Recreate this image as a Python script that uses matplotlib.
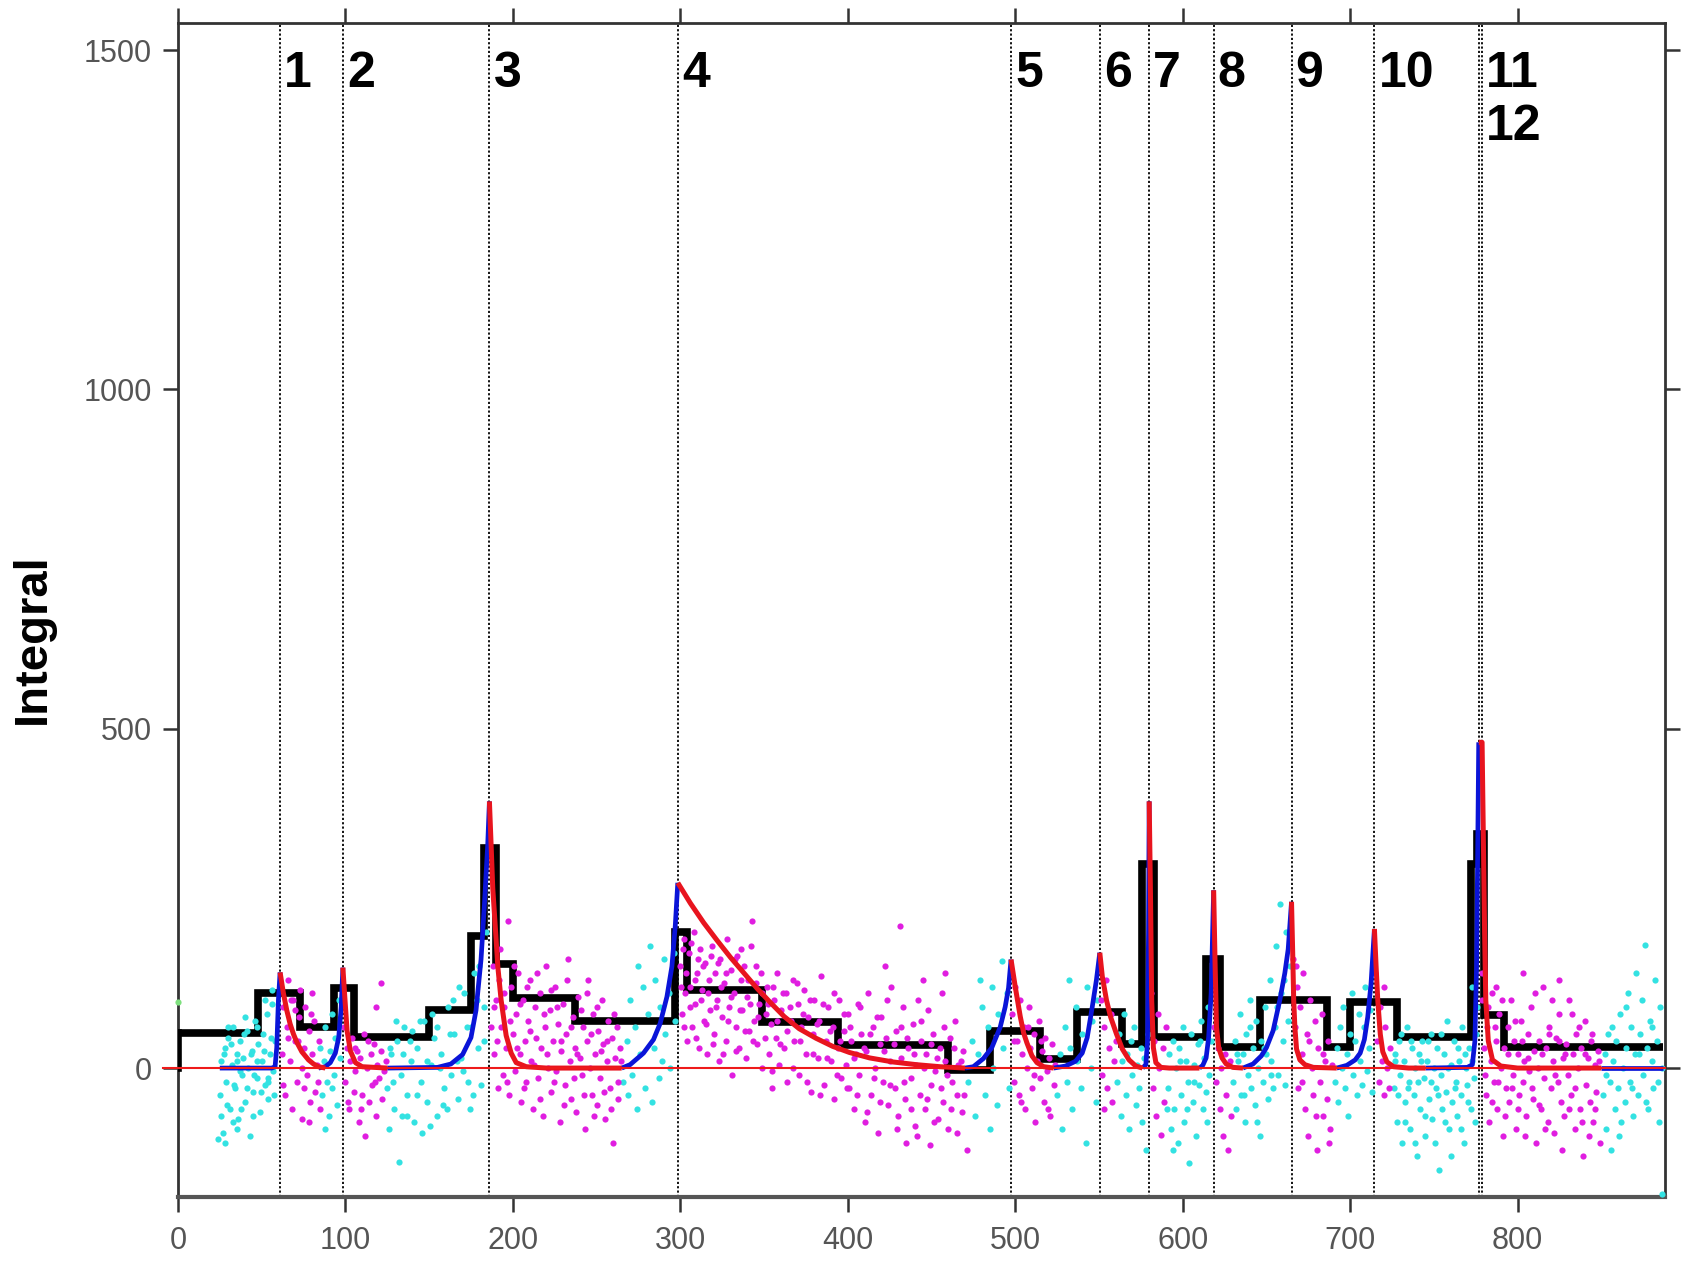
import numpy as np
import matplotlib
matplotlib.use('Agg')
import matplotlib.pyplot as plt

plt.rcParams['font.family'] = ['Liberation Sans', 'DejaVu Sans']

# ── event markers (dotted lines) ─────────────────────────────────────
event_x = [61, 98.5, 186, 298.5, 497.5, 550.5, 580, 618.5, 665, 714.5, 776.8, 778.6]
event_lbl = ['1', '2', '3', '4', '5', '6', '7', '8', '9', '10', '11', '12']
event_lbl_y = [1465] * 11 + [1387]

# ── Bayesian-block style step (edges / levels) ──────────────────────
step_edges = [0, 48, 73, 93, 105, 150, 175, 183, 190, 200, 237, 297, 304, 349,
              394, 460, 485, 515, 537, 564, 576, 583, 614, 622, 646, 686, 700,
              728, 772, 776, 780, 792, 887]
step_levels = [51, 110, 61, 118, 46, 85, 195, 325, 154, 103, 70, 200, 115, 68,
               34, -3, 55, 14, 83, 36, 300, 46, 160, 31, 100, 31, 97,
               46, 300, 345, 78, 31]

# ── pulse rises (blue) and decays (red) ─────────────────────────────
rise_curves = [
    [(25, 0), (56, 0), (58, 2), (59, 30), (60, 100), (61, 141)],
    [(84, 0), (88, 2), (91, 8), (94, 22), (96, 45), (97.5, 90), (98.5, 148)],
    [(125, 0), (155, 1), (163, 6), (170, 20), (175, 45), (178, 85), (181, 160),
     (183, 240), (185, 330), (186, 393)],
    [(265, 0), (270, 5), (278, 22), (284, 42), (288, 66), (292, 105), (295, 150),
     (297, 210), (298.5, 273)],
    [(470, 0), (475, 2), (481, 14), (486, 30), (491, 60), (494, 90), (496, 118),
     (497.5, 160)],
    [(523, 0), (530, 3), (536, 10), (540, 22), (543, 45), (546, 90), (548.5, 130),
     (550.5, 170)],
    [(576, 0), (578, 5), (579, 40), (579.6, 200), (580, 393)],
    [(610, 0), (612, 4), (614, 15), (615.5, 45), (617, 110), (618.5, 262)],
    [(636, 0), (642, 6), (647, 18), (650, 30), (654, 55), (658, 100), (661, 140),
     (663, 175), (665, 245)],
    [(692, 0), (698, 4), (703, 12), (706, 22), (708.5, 42), (710.5, 75),
     (712.5, 125), (714.5, 205)],
    [(745, 0), (770, 1), (773, 5), (774.5, 40), (775.5, 150), (776.3, 350),
     (776.8, 480)],
    [(850, 0), (887, 0)],
]
decay_curves = [
    [(61, 141), (63, 110), (65, 85), (67, 65), (69, 50), (71, 38), (74, 24),
     (78, 12), (81, 6), (84, 2), (88, 0)],
    [(98.5, 148), (99.5, 110), (101, 55), (103, 25), (106, 8), (110, 2), (125, 0)],
    [(186, 393), (187, 330), (188, 265), (190, 190), (191, 150), (193, 100),
     (196, 48), (199, 22), (202, 8), (208, 2), (220, 0), (265, 0)],
    [(298.5, 273), (306, 243), (314, 214), (322, 188), (330, 163), (338, 140),
     (346, 117), (354, 96), (362, 76), (371, 58), (381, 44), (391, 32),
     (401, 23), (413, 15), (427, 9), (441, 5), (455, 2), (470, 0)],
    [(497.5, 160), (500, 120), (503, 76), (505, 52), (507, 37), (510, 18),
     (513, 8), (517, 2), (523, 0)],
    [(550.5, 170), (552, 135), (554.5, 100), (557, 75), (560.5, 50), (564, 28),
     (568, 12), (572, 3), (576, 0)],
    [(580, 393), (580.8, 250), (581.5, 100), (582.5, 30), (584, 8), (587, 1),
     (592, 0), (610, 0)],
    [(618.5, 262), (619.3, 160), (620.2, 60), (621.5, 30), (623.5, 15),
     (626, 6), (630, 1), (636, 0)],
    [(665, 245), (665.7, 170), (666.3, 100), (667, 60), (668, 28), (670, 12),
     (673, 5), (678, 1), (692, 0)],
    [(714.5, 205), (715.5, 150), (716.5, 100), (718, 50), (719.5, 24), (722, 9),
     (726, 2), (735, 0), (745, 0)],
    [(776.8, 480), (778.8, 480), (779.5, 350), (780.3, 200), (781, 100),
     (782.5, 40), (785, 12), (790, 3), (800, 0), (850, 0)],
]

# ── data points: cyan (rise phases) ─────────────────────────────────
cyan_pts = [
    (25, -40), (26, 10), (27, -95), (28, 30), (29, -20), (30, 45), (31, -60), (32, 5),
    (33, 60), (34, -30), (35, 20), (36, -75), (37, 40), (38, -10), (39, 15), (40, -50),
    (41, 55), (42, 0), (43, -100), (44, 25), (45, -35), (46, 70), (47, -15), (48, 35),
    (49, -65), (50, 10), (51, 50), (52, -25), (53, 80), (54, -45), (55, 20), (56, 95),
    (57, -5), (58, 40), (28, -110), (33, -80), (40, 75), (45, -70), (52, 100), (56, 115),
    (30, 60), (37, -5), (47, 10), (54, -20), (24, -105), (35, -90),
    (25.5, -70), (27.5, 20), (29.5, -55), (31.5, 35), (33.5, -25), (35.5, 10),
    (37.5, -60), (39.5, 50), (41.5, -30), (43.5, 20), (45.5, -10), (47.5, 60),
    (49.5, -35), (51.5, 25), (53.5, -15), (55.5, 45), (57.5, -40),
    (85, 30), (86, -40), (87, 10), (88, 60), (89, -20), (90, -70), (91, 25), (92, 80),
    (93, -10), (94, 45), (95, -55), (96, 100), (97, 15), (88, -90), (92, -30),
    (125, -30), (127, 20), (129, -60), (131, 40), (132, -138), (133, -10), (135, 60),
    (137, -40), (139, 10), (141, -80), (143, 30), (145, -20), (147, 70), (149, -50),
    (151, 5), (153, 45), (155, -70), (157, 20), (159, -30), (161, 90), (163, -10),
    (165, 50), (167, -45), (169, 15), (171, 110), (173, -20), (175, 60), (177, 140),
    (179, 30), (181, -25), (183, 90), (126, -90), (134, -70), (140, 55), (146, -95),
    (152, 80), (158, -55), (164, 100), (170, -5), (176, -40), (168, 120), (180, 150),
    (184, 200),
    (126.5, 30), (128.5, -20), (130.5, 70), (134.5, 20), (136.5, -70), (138.5, 40),
    (142.5, -40), (144.5, 70), (148.5, 10), (150.5, -85), (154.5, 60), (156.5, 0),
    (160.5, -60), (162.5, 50), (166.5, 10), (172.5, 60), (174.5, -60), (178.5, 100),
    (182.5, 40),
    (266, -20), (268, 40), (270, 100), (271, -10), (273, 60), (275, 150), (276, 20),
    (278, 120), (279, -30), (281, 80), (282, 180), (284, 30), (285, 130), (287, -15),
    (288, 90), (290, 160), (291, 50), (293, 110), (294, 0), (296, 170), (297, 70),
    (269, -40), (274, -60), (283, -50), (289, 10),
    (472, -20), (474, 40), (476, -70), (478, 20), (480, 90), (482, -40), (484, 60),
    (486, 120), (487, 0), (489, -55), (490, 80), (492, 158), (493, 30), (495, 110),
    (496, -30), (485, -90), (479, 130),
    (525, -40), (527, 20), (528, -90), (530, 60), (531, -20), (533, 30), (534, -60),
    (536, 90), (537, 10), (539, -30), (540, 50), (542, -110), (543, 120), (545, 0),
    (546, 70), (548, -50), (549, 100), (532, 130),
    (561, -20), (562, 50), (563, -70), (564, 10), (565, 80), (566, -40), (567, 20),
    (568, -90), (569, 40), (570, -10), (571, 60), (572, -55), (573, 5), (574, -30),
    (575, 30), (576, -80), (577, 15), (578, -120), (579, 50),
    (591, -30), (592, 20), (593, -90), (594, 40), (595, -60), (596, 0), (597, -110),
    (598, 30), (599, -40), (600, 60), (601, -80), (602, 10), (603, -20), (604, -140),
    (605, 50), (606, -50), (607, 5), (608, -100), (609, 35), (610, -25), (611, 70),
    (612, -60), (613, 15), (614, -35), (615, 90), (616, -10), (617, 40),
    (590.5, -60), (594.5, -120), (598.5, 10), (602.5, -60), (606.5, -20),
    (610.5, 40), (614.5, -80),
    (630, -20), (631, 40), (632, -60), (633, 10), (634, 80), (635, -40), (636, 20),
    (637, -80), (638, 50), (639, -10), (640, 100), (641, -30), (642, 30), (643, -55),
    (644, 70), (645, 0), (646, -100), (647, 40), (648, -20), (649, 90), (650, 20),
    (651, -45), (652, 130), (653, 10), (654, -30), (655, 60), (656, 180), (657, -10),
    (658, 242), (659, 110), (660, 40), (661, -25), (662, 200), (663, 70), (664, 150),
    (632.5, 20), (636.5, -40), (640.5, 60), (644.5, -80), (648.5, 30), (652.5, -10),
    (656.5, 90), (660.5, 130),
    (691, -20), (692, 30), (693, -50), (694, 60), (695, 0), (696, 90), (697, -30),
    (698, 20), (699, -70), (700, 50), (701, 110), (702, -10), (703, 40), (704, -40),
    (705, 80), (706, 10), (707, -25), (708, 60), (709, 120), (710, -5), (711, 30),
    (712, 85), (713, -35),
    (726, -30), (727, 20), (728, -80), (729, 40), (730, -10), (731, -110), (732, 10),
    (733, -50), (734, 60), (735, -20), (736, -90), (737, 30), (738, -40), (739, 0),
    (740, -130), (741, 20), (742, -60), (743, 40), (744, -15), (745, -100), (746, 10),
    (747, -45), (748, 50), (749, -75), (750, 0), (751, -30), (752, 30), (753, -150),
    (754, -10), (755, -60), (756, 20), (757, -35), (758, 70), (759, -90), (760, 5),
    (761, -50), (762, 40), (763, -20), (764, -70), (765, 10), (766, -40), (767, 60),
    (768, -110), (769, 0), (770, -25), (771, 30), (772, -60), (773, 120), (774, -15),
    (775, 50), (776, 90),
    (726.5, 10), (728.5, -40), (730.5, 50), (732.5, -80), (734.5, -30), (736.5, 40),
    (738.5, -110), (740.5, -20), (742.5, 10), (744.5, -70), (746.5, 40), (748.5, -20),
    (750.5, -110), (752.5, -40), (754.5, 50), (756.5, -80), (758.5, 0), (760.5, -130),
    (762.5, -30), (764.5, 30), (766.5, -90), (768.5, 20), (770.5, -50), (772.5, 10),
    (774.5, -80),
    (851, -40), (852, 20), (853, -90), (854, 50), (855, -20), (856, -120), (857, 10),
    (858, -60), (859, 40), (860, -30), (861, 80), (862, -80), (863, 0), (864, -50),
    (865, 30), (866, 110), (867, -20), (868, 60), (869, -70), (870, 20), (871, 140),
    (872, -40), (873, 50), (874, 100), (875, -10), (876, 181), (877, 30), (878, -60),
    (879, 70), (880, 10), (881, -30), (882, 130), (883, 40), (884, -20), (885, 90),
    (886, 0), (886, -186),
    (852.5, -10), (856.5, 60), (860.5, -100), (864.5, 90), (868.5, -30), (872.5, 20),
    (876.5, -50), (880.5, 60), (884.5, -80),
]

# ── data points: magenta (decay phases) ─────────────────────────────
magenta_pts = [
    (62, 20), (63, 90), (64, -40), (65, 60), (66, 130), (67, 10), (68, -60), (69, 100),
    (70, 40), (71, -20), (72, 75), (73, 115), (74, -75), (75, 30), (76, 90), (77, -10),
    (78, 55), (79, -50), (80, 20), (81, 70), (82, -35), (83, 5), (84, 40), (66, 45),
    (70, 85), (74, 0), (78, -80), (80, 110), (63, -25), (85, -60),
    (67.5, 100), (71.5, 40), (75.5, -30), (79.5, 80), (83.5, -20),
    (99, 60), (100, -20), (101, 30), (102, -60), (103, 10), (104, 45), (105, -35),
    (106, -5), (107, 25), (108, -80), (109, 15), (110, -40), (111, 50), (112, -100),
    (113, 0), (114, -50), (115, 20), (116, -25), (117, 35), (118, -70), (119, 5),
    (120, -15), (121, 25), (122, -45), (123, -5), (124, 10), (118, 90), (121, 126),
    (101.5, -50), (105.5, 30), (109.5, -60), (113.5, 40), (117.5, -20),
    (187, 60), (188, 150), (189, 20), (190, 100), (191, -30), (192, 130), (193, 60),
    (194, -10), (195, 90), (196, 30), (197, 217), (198, -40), (199, 120), (200, 50),
    (201, -5), (202, 80), (203, 140), (204, 20), (205, -50), (206, 100), (207, 40),
    (208, -20), (209, 70), (210, 130), (211, 10), (212, -60), (213, 90), (214, 45),
    (215, -15), (216, 110), (217, 30), (218, -70), (219, 60), (220, 150), (221, 0),
    (222, 85), (223, -35), (224, 40), (225, 120), (226, -5), (227, 65), (228, -80),
    (229, 25), (230, 95), (231, -25), (232, 50), (233, 160), (234, 10), (235, -45),
    (236, 75), (237, 30), (238, -65), (239, 105), (240, 15), (241, -10), (242, 60),
    (243, -90), (244, 40), (245, 130), (246, 0), (247, -40), (248, 80), (249, 20),
    (250, -55), (251, 55), (252, -15), (253, 100), (254, 35), (255, -75), (256, 10),
    (257, 70), (258, -30), (259, 45), (260, -110), (261, 15), (262, 60), (263, -20),
    (264, 30),
    (188.5, 90), (190.5, 40), (192.5, 175), (194.5, 110), (196.5, -20), (198.5, 70),
    (200.5, 150), (202.5, 30), (204.5, 95), (206.5, -30), (208.5, 120), (210.5, 55),
    (212.5, 5), (214.5, 140), (216.5, -45), (218.5, 80), (220.5, 20), (222.5, 115),
    (224.5, -20), (226.5, 90), (228.5, 40), (230.5, -55), (232.5, 130), (234.5, 60),
    (236.5, -15), (238.5, 20), (240.5, 85), (242.5, -40), (244.5, 110), (246.5, 50),
    (248.5, -70), (250.5, 90), (252.5, 25), (254.5, -35), (256.5, 40), (258.5, -60),
    (260.5, 80), (262.5, -45), (264.5, 10),
    (300, 150), (301, 80), (302, 190), (303, 110), (304, 40), (305, 170), (306, 120),
    (307, 60), (308, 200), (309, 95), (310, 140), (311, 30), (312, 175), (313, 115),
    (314, 70), (315, 155), (316, 20), (317, 130), (318, 85), (319, 180), (320, 50),
    (321, 140), (322, 100), (323, 10), (324, 160), (325, 75), (326, 125), (327, 40),
    (328, 190), (329, 90), (330, 145), (331, -10), (332, 110), (333, 60), (334, 165),
    (335, 30), (336, 130), (337, 85), (338, 150), (339, 15), (340, 105), (341, 55),
    (342, 180), (343, 217), (344, 70), (345, 125), (346, 35), (347, 95), (348, 140),
    (349, 0),
    (300.5, 120), (301.5, 175), (302.5, 60), (303.5, 140), (305.5, 90), (306.5, 185),
    (308.5, 130), (309.5, 45), (310.5, 160), (312.5, 100), (313.5, 150), (315.5, 65),
    (316.5, 110), (318.5, 165), (319.5, 35), (321.5, 90), (322.5, 155), (324.5, 120),
    (325.5, 20), (327.5, 140), (328.5, 70), (330.5, 105), (332.5, 160), (333.5, 25),
    (335.5, 85), (336.5, 175), (338.5, 55), (340.5, 130), (341.5, 95), (343.5, 40),
    (345.5, 150), (346.5, 75), (348.5, 110),
    (351, 80), (352, 120), (353, 20), (354, 65), (355, -30), (356, 100), (357, 45),
    (358, 140), (359, 5), (360, 85), (362, 30), (363, 110), (364, -20), (366, 70),
    (367, 130), (368, 40), (370, 95), (371, -10), (372, 60), (374, 115), (375, 20),
    (376, 75), (378, -35), (379, 50), (380, 100), (382, 15), (383, 70), (384, 135),
    (386, -25), (387, 40), (388, 90), (390, 10), (391, 60), (392, -45), (394, 30),
    (395, 100), (396, -15), (398, 55), (399, 5),
    (350.5, 45), (352.5, 95), (354.5, -5), (355.5, 120), (357.5, 70), (359.5, 35),
    (361.5, 110), (363.5, 55), (365.5, 90), (367.5, 0), (369.5, 125), (371.5, 40),
    (373.5, 80), (375.5, -20), (377.5, 100), (379.5, 20), (381.5, 65), (383.5, -40),
    (385.5, 95), (387.5, 15), (389.5, 55), (391.5, 110), (393.5, -10), (395.5, 40),
    (397.5, 80), (399.5, -30),
    (400, 80), (401, -30), (402, 40), (404, -60), (405, 20), (406, 95), (407, -10),
    (408, 50), (410, -80), (411, 25), (412, 110), (414, -40), (415, 60), (416, 0),
    (418, -95), (419, 35), (420, 75), (421, -20), (423, 45), (424, -55), (425, 10),
    (426, 120), (428, -30), (429, 55), (430, -70), (431, 209), (432, 15), (433, 90),
    (434, -45), (435, -110), (436, 30), (438, -15), (439, 65), (440, -85), (441, 5),
    (442, 100), (443, -40), (444, 40), (446, -60), (447, 20), (448, 85), (449, -113),
    (450, -25), (451, 50), (452, -5), (454, -75), (455, 30), (456, 110), (457, -50),
    (458, 10), (460, -90), (461, 45), (462, -20), (464, 70), (465, -40), (466, 5),
    (468, -65), (469, 25), (471, -120), (445, 130), (458, 140), (422, 150),
    (401.5, 60), (403.5, 15), (405.5, -40), (407.5, 90), (409.5, 30), (411.5, -65),
    (413.5, 50), (415.5, -15), (417.5, 75), (419.5, -50), (421.5, 25), (423.5, 100),
    (425.5, -25), (427.5, 35), (429.5, -90), (431.5, 60), (433.5, -20), (435.5, 45),
    (437.5, -60), (439.5, 20), (441.5, -100), (443.5, 70), (445.5, 0), (447.5, -45),
    (449.5, 35), (451.5, -80), (453.5, 15), (455.5, -30), (457.5, 60), (459.5, -10),
    (461.5, -60), (463.5, 30), (465.5, -95), (467.5, 10), (469.5, -40),
    (498, 80), (499, -20), (500, 120), (501, 40), (502, -40), (503, 100), (504, 20),
    (505, 60), (506, -60), (507, 0), (508, 90), (509, 30), (510, -30), (511, 50),
    (512, -80), (513, 10), (514, 70), (515, -15), (516, 25), (517, -50), (518, 45),
    (519, -5), (520, 15), (521, -70), (522, 35), (523, -25), (524, 5),
    (499.5, 40), (503.5, -50), (507.5, 60), (511.5, -10), (515.5, 40), (519.5, -60),
    (551, 100), (552, -10), (553, 60), (554, 130), (555, -30), (556, 30), (557, 80),
    (558, -50), (559, 10), (560, 40), (553, -60),
    (581, 110), (582, -30), (583, 40), (584, -70), (585, 80), (586, 0), (587, -98),
    (588, 30), (589, -50), (590, 60),
    (619, 60), (620, -20), (621, 30), (622, -60), (623, 0), (624, -100), (625, 20),
    (626, -40), (627, -120), (628, 10), (629, -70),
    (666, 160), (667, 60), (668, 120), (669, -30), (670, 90), (671, 20), (672, 140),
    (673, -60), (674, 50), (675, -100), (676, 100), (677, 0), (678, -40), (679, 70),
    (680, -120), (681, 30), (682, -20), (683, 80), (684, -70), (685, 10), (686, -45),
    (687, 40), (688, -90), (689, 5),
    (667.5, 150), (671.5, -20), (675.5, 40), (679.5, -70), (683.5, 20), (687.5, -110),
    (715, 140), (716, 40), (717, -20), (718, 90), (719, 10), (720, -40), (721, 60),
    (722, 0), (723, -30), (724, 30), (720, 120),
    (779, 100), (780, 30), (781, -40), (782, 60), (783, -80), (784, 10), (785, 110),
    (786, -20), (787, 40), (788, -60), (789, 80), (790, 0), (791, -100), (792, 30),
    (793, -30), (794, 60), (795, -50), (796, 100), (797, -10), (798, 40), (799, -90),
    (800, 20), (801, -40), (802, 70), (803, -20), (804, 10), (805, -70), (806, 50),
    (807, -5), (808, 90), (809, -45), (810, 25), (811, -110), (812, 0), (813, 40),
    (814, -60), (815, 120), (816, -15), (817, 30), (818, -80), (819, 60), (820, -30),
    (821, 10), (822, -95), (823, 45), (824, -20), (825, 80), (826, -50), (827, 15),
    (828, -70), (829, 35), (830, -10), (831, 100), (832, -40), (833, 20), (834, -90),
    (835, 50), (836, 0), (837, -60), (838, 30), (839, -130), (840, 70), (841, -25),
    (842, 15), (843, -50), (844, 40), (845, -80), (846, 5), (847, -35), (848, 25),
    (849, -110), (803, 140), (787, 120), (825, 130),
    (778.5, 140), (780.5, -10), (782.5, 90), (784.5, -50), (786.5, 60), (788.5, -20),
    (790.5, 100), (792.5, -70), (794.5, 20), (796.5, -30), (798.5, 70), (800.5, -60),
    (802.5, 40), (804.5, -100), (806.5, 15), (808.5, -30), (810.5, 110), (812.5, -55),
    (814.5, 20), (816.5, -90), (818.5, 50), (820.5, 100), (822.5, -10), (824.5, 40),
    (826.5, -120), (828.5, 20), (830.5, -60), (832.5, 80), (834.5, -30), (836.5, 60),
    (838.5, -80), (840.5, 20), (842.5, -100), (844.5, 50), (846.5, -60), (848.5, 10),
]
green_pts = [(0, 98)]

xticks = [0, 100, 200, 300, 400, 500, 600, 700, 800]
yticks = [0, 500, 1000, 1500]

# ──────────────────────────────────────────────────────────────────────
fig = plt.figure(figsize=(16.85, 12.62), dpi=100)
ax = fig.add_axes([0.1056, 0.0515, 0.8825, 0.9303])

for x in event_x:
    ax.axvline(x, color='black', lw=1.3, ls=(0, (1.2, 1.2)), zorder=2)
for x, lbl, y in zip(event_x, event_lbl, event_lbl_y):
    if lbl == '11':
        x = event_x[-1]
    ax.text(x + 2.5, y, lbl, fontsize=36, fontweight='bold', ha='left',
            va='center', zorder=7)

ax.stairs(step_levels, step_edges, color='black', lw=5.5, zorder=3,
          baseline=None)
ax.plot([0, 0], [0, step_levels[0]], color='black', lw=5.5, zorder=3)

cx, cy = zip(*cyan_pts)
mx, my = zip(*magenta_pts)
ax.scatter(cx, cy, s=20, color='#33e2e2', lw=0, zorder=4)
ax.scatter(mx, my, s=20, color='#e01ee0', lw=0, zorder=4)
gx, gy = zip(*green_pts)
ax.scatter(gx, gy, s=20, color='#7ee07e', lw=0, zorder=4, clip_on=False)

for c in rise_curves:
    x, y = zip(*c)
    ax.plot(x, y, color='#0a14d8', lw=3.4, zorder=5, solid_capstyle='butt')
for c in decay_curves:
    x, y = zip(*c)
    ax.plot(x, y, color='#e8141e', lw=3.6, zorder=6, solid_capstyle='butt')

ax.plot([-9, 888], [0, 0], color='#ee1a1a', lw=1.5, zorder=6, clip_on=False)

ax.set_xlim(0, 888)
ax.set_ylim(-190, 1540)
ax.set_xticks(xticks)
ax.set_yticks(yticks)
ax.tick_params(axis='both', which='major', direction='out', length=11, width=1.8,
               color='#333333', labelsize=22, labelcolor='#555555', pad=8,
               top=True, right=True)
ax.tick_params(axis='x', pad=10)
ax.set_ylabel('Integral', fontsize=34, fontweight='bold')
ax.yaxis.set_label_coords(-0.083, 0.476)
for s in ax.spines.values():
    s.set_color('#333333')
    s.set_linewidth(2.0)
ax.spines['bottom'].set_linewidth(3.0)
ax.spines['bottom'].set_color('#555555')

fig.savefig('out.png', dpi=100)
